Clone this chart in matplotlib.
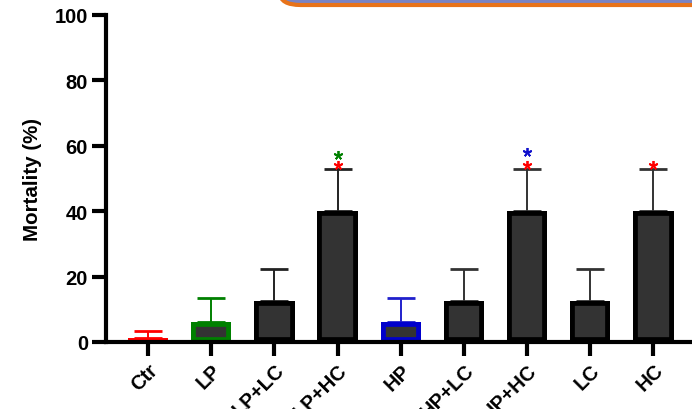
import matplotlib.pyplot as plt
from matplotlib.patches import FancyBboxPatch

groups = ["Ctr", "LP", "LP+LC", "LP+HC", "HP", "HP+LC", "HP+HC", "LC", "HC"]
mortality = [1.25, 6.25, 12.5, 40.0, 6.25, 12.5, 40.0, 12.5, 40.0]
sd = [2.1, 7.1, 9.8, 13.0, 7.1, 9.8, 13.0, 9.8, 13.0]
edge_colors = ["#ff0000", "#008000", "#000000", "#000000", "#0000cc",
               "#000000", "#000000", "#000000", "#000000"]
err_colors = ["#ff0000", "#008000", "#222222", "#222222", "#2020cc",
              "#333333", "#333333", "#333333", "#333333"]
# significance stars: (group index, color, height above the error bar)
stars = [(3, "#008000", 4.1), (3, "#ff0000", 1.1),
         (6, "#1010cc", 5.2), (6, "#ff0000", 1.1),
         (8, "#ff0000", 1.1)]

plt.rcParams['font.family'] = ['Liberation Sans', 'DejaVu Sans']
plt.rcParams['font.weight'] = 'bold'

fig = plt.figure(figsize=(6.92, 4.10), dpi=100)
ax = fig.add_axes([106 / 692, 67 / 410, 1 - 106 / 692, 327 / 410])

x = list(range(len(groups)))
for i in x:
    bars = ax.bar(i, mortality[i], width=0.64, color="#333333",
                  edgecolor=edge_colors[i], linewidth=7, zorder=2)
    # keep the thick outline inside the bar, like Prism does
    for b in bars:
        b.set_clip_path(b)
    ax.errorbar(i, mortality[i], yerr=[[0], [sd[i]]], color=err_colors[i],
                elinewidth=1.4, capsize=10, capthick=2, zorder=1)

for i, c, off in stars:
    top = mortality[i] + sd[i]
    ax.plot(i, top + off, marker=(5, 2, 0), color=c, markersize=6.5,
            markeredgewidth=1.3, zorder=3, clip_on=False)

ax.set_xlim(-0.665, 8.61)
ax.set_ylim(0, 100)
ax.set_yticks([0, 20, 40, 60, 80, 100])
ax.set_xticks(x)
ax.set_xticklabels(groups, rotation=45, ha="right", rotation_mode="anchor")
ax.tick_params(axis="y", length=10, width=3, labelsize=14.5, pad=3)
ax.tick_params(axis="x", length=10, width=3, labelsize=14.5, pad=3)
for lab in ax.get_xticklabels() + ax.get_yticklabels():
    lab.set_fontweight("bold")
ax.set_ylabel("Mortality (%)", fontsize=14.8, fontweight="bold", labelpad=9)

for side in ["top", "right"]:
    ax.spines[side].set_visible(False)
for side in ["left", "bottom"]:
    ax.spines[side].set_linewidth(3)

# cropped rounded box at the top edge
box = FancyBboxPatch((280 / 692, 404 / 410), 0.7, 0.1,
                     boxstyle="round,pad=0,rounding_size=0.03",
                     transform=fig.transFigure, facecolor="#7a84c4",
                     edgecolor="#e8731a", linewidth=3, clip_on=False)
fig.patches.append(box)

fig.savefig("out.png", dpi=100)
